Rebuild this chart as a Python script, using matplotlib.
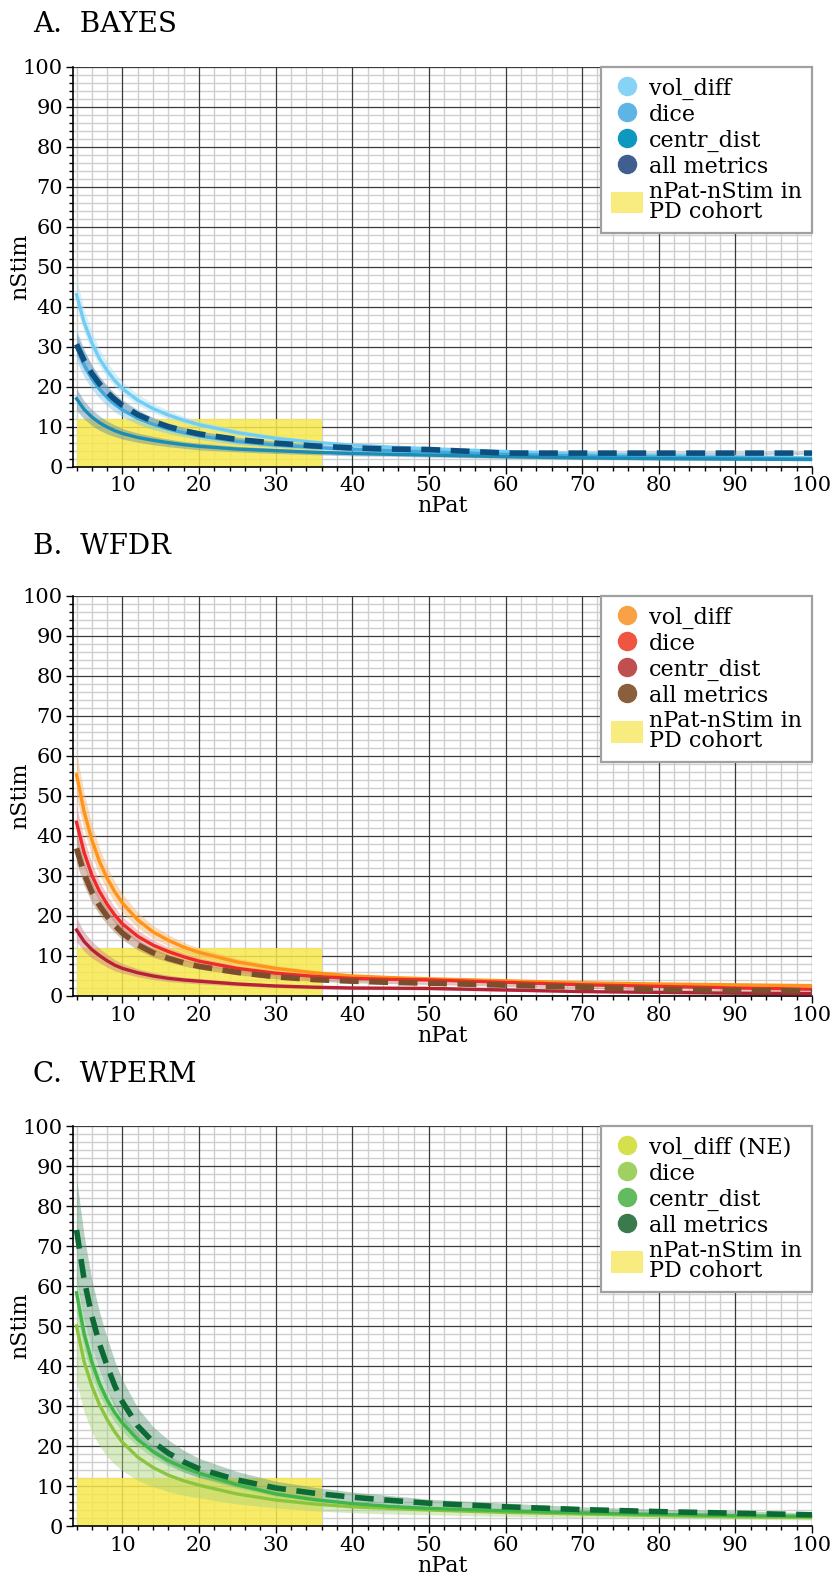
import matplotlib
matplotlib.use("Agg")
import matplotlib.pyplot as plt
from matplotlib.lines import Line2D
from matplotlib.patches import Patch
from matplotlib.ticker import MultipleLocator

plt.rcParams['font.family'] = ['DejaVu Serif']

# ---------------- data ----------------
n_pat = [4, 5, 6, 7, 8, 9, 10, 12, 14, 16, 18, 20, 25, 30, 35, 40, 45, 50, 60, 70, 80, 90, 100]

# A. BAYES
a_vol = [43, 36, 31, 27, 24, 21.5, 19.5, 16.6, 14.5, 12.9, 11.6, 10.5, 8.5, 7.1, 6.1, 5.4, 4.9, 4.5, 3.8, 3.2, 2.8, 2.5, 2.2]
a_vol_lo = [40, 33.5, 28.8, 25.1, 22.3, 20, 18.1, 15.4, 13.5, 12, 10.8, 9.8, 7.9, 6.6, 5.7, 5.0, 4.6, 4.2, 3.5, 3.0, 2.6, 2.3, 2.0]
a_vol_hi = [47, 39.2, 33.8, 29.4, 26.2, 23.4, 21.3, 18.1, 15.8, 14.1, 12.6, 11.4, 9.3, 7.7, 6.6, 5.9, 5.3, 4.9, 4.1, 3.5, 3.1, 2.7, 2.4]
a_dice = [30, 25.5, 22, 19.4, 17.3, 15.6, 14.2, 12.1, 10.6, 9.4, 8.5, 7.7, 6.3, 5.4, 4.8, 4.3, 4.0, 3.7, 3.1, 2.7, 2.4, 2.2, 2.0]
a_dice_lo = [26.4, 22.4, 19.4, 17.1, 15.2, 13.7, 12.5, 10.6, 9.3, 8.3, 7.5, 6.8, 5.5, 4.8, 4.2, 3.8, 3.5, 3.3, 2.7, 2.4, 2.1, 1.9, 1.8]
a_dice_hi = [34.5, 29.3, 25.3, 22.3, 19.9, 17.9, 16.3, 13.9, 12.2, 10.8, 9.8, 8.9, 7.2, 6.2, 5.5, 4.9, 4.6, 4.3, 3.6, 3.1, 2.8, 2.5, 2.3]
a_cd = [17, 14.3, 12.4, 11, 9.9, 9.0, 8.3, 7.3, 6.6, 6.0, 5.5, 5.1, 4.4, 4.0, 3.6, 3.3, 3.1, 2.9, 2.5, 2.2, 2.0, 1.9, 1.8]
a_cd_lo = [14.1, 11.9, 10.3, 9.1, 8.2, 7.5, 6.9, 6.1, 5.5, 5.0, 4.6, 4.2, 3.7, 3.3, 3.0, 2.7, 2.6, 2.4, 2.1, 1.8, 1.7, 1.6, 1.5]
a_cd_hi = [19.6, 16.4, 14.3, 12.7, 11.4, 10.4, 9.5, 8.4, 7.6, 6.9, 6.3, 5.9, 5.1, 4.6, 4.1, 3.8, 3.6, 3.3, 2.9, 2.5, 2.3, 2.2, 2.1]
a_all = [30.6, 26.5, 23.3, 20.7, 18.6, 16.8, 15.3, 13.0, 11.3, 10.0, 9.0, 8.2, 6.8, 5.9, 5.2, 4.7, 4.4, 4.3, 3.4, 3.4, 3.4, 3.4, 3.4]
a_all_lo = [27.8, 24.1, 21.2, 18.8, 16.9, 15.3, 13.9, 11.8, 10.3, 9.1, 8.2, 7.5, 6.2, 5.4, 4.7, 4.3, 4.0, 3.9, 3.1, 3.1, 3.1, 3.1, 3.1]
a_all_hi = [33.4, 28.9, 25.4, 22.6, 20.3, 18.3, 16.7, 14.2, 12.3, 10.9, 9.8, 8.9, 7.4, 6.4, 5.7, 5.1, 4.8, 4.7, 3.7, 3.7, 3.7, 3.7, 3.7]

# B. WFDR
b_vol = [55.3, 46, 39, 33.6, 29.4, 26.0, 23.2, 19.0, 16.0, 13.9, 12.2, 10.9, 8.5, 6.9, 5.8, 5.0, 4.6, 4.3, 3.8, 3.3, 3.0, 2.8, 2.6]
b_vol_lo = [49.8, 41.4, 35.1, 30.2, 26.5, 23.4, 20.9, 17.1, 14.4, 12.5, 11.0, 9.8, 7.7, 6.2, 5.2, 4.5, 4.1, 3.9, 3.4, 3.0, 2.7, 2.5, 2.3]
b_vol_hi = [60.8, 50.6, 42.9, 37.0, 32.3, 28.6, 25.5, 20.9, 17.6, 15.3, 13.4, 12.0, 9.4, 7.6, 6.4, 5.5, 5.1, 4.7, 4.2, 3.6, 3.3, 3.1, 2.9]
b_dice = [43.4, 35.8, 30.2, 26.1, 22.9, 20.2, 18.0, 14.9, 12.7, 11.1, 9.8, 8.7, 6.9, 5.7, 4.9, 4.4, 4.15, 4.0, 3.4, 2.8, 2.4, 2.0, 1.7]
b_dice_lo = [39, 32.2, 27.2, 23.5, 20.6, 18.2, 16.2, 13.4, 11.4, 10.0, 8.8, 7.8, 6.2, 5.1, 4.4, 4.0, 3.7, 3.6, 3.1, 2.5, 2.2, 1.8, 1.5]
b_dice_hi = [47.7, 39.4, 33.2, 28.7, 25.2, 22.2, 19.8, 16.4, 14.0, 12.2, 10.8, 9.6, 7.6, 6.3, 5.4, 4.8, 4.6, 4.4, 3.7, 3.1, 2.6, 2.2, 1.9]
b_cd = [16.5, 13.6, 11.6, 10.1, 8.8, 7.7, 6.9, 5.8, 5.0, 4.4, 4.0, 3.7, 3.0, 2.5, 2.2, 2.0, 1.95, 1.9, 1.5, 1.1, 0.9, 0.7, 0.6]
b_cd_lo = [13.5, 11.2, 9.5, 8.3, 7.2, 6.3, 5.7, 4.8, 4.1, 3.6, 3.3, 3.0, 2.5, 2.1, 1.8, 1.6, 1.6, 1.5, 1.2, 0.9, 0.7, 0.5, 0.4]
b_cd_hi = [19.5, 16.0, 13.7, 11.9, 10.4, 9.1, 8.1, 6.8, 5.9, 5.2, 4.7, 4.4, 3.5, 3.0, 2.6, 2.4, 2.3, 2.3, 1.8, 1.4, 1.1, 0.9, 0.8]
b_all = [36.9, 30.5, 26, 22.6, 19.9, 17.6, 15.7, 12.8, 10.8, 9.4, 8.3, 7.4, 5.9, 4.8, 4.1, 3.7, 3.4, 3.2, 2.7, 2.2, 1.6, 1.4, 1.3]
b_all_lo = [33.2, 27.5, 23.4, 20.3, 17.9, 15.8, 14.1, 11.5, 9.7, 8.5, 7.5, 6.7, 5.3, 4.3, 3.7, 3.3, 3.1, 2.9, 2.4, 2.0, 1.4, 1.2, 1.1]
b_all_hi = [40.6, 33.6, 28.6, 24.9, 21.9, 19.4, 17.3, 14.1, 11.9, 10.3, 9.1, 8.1, 6.5, 5.3, 4.5, 4.1, 3.7, 3.5, 3.0, 2.4, 1.8, 1.6, 1.5]

# C. WPERM
c_dice = [50, 41, 35, 30.3, 26.6, 23.5, 20.9, 17.2, 14.6, 12.7, 11.3, 10.2, 8.0, 6.5, 5.5, 4.8, 4.4, 4.0, 3.4, 3.0, 2.6, 2.3, 2.1]
c_dice_lo = [36, 28.5, 23.5, 20, 17.4, 15.4, 13.8, 11.4, 9.8, 8.6, 7.7, 7.0, 5.5, 4.5, 3.8, 3.3, 3.0, 2.8, 2.4, 2.1, 1.9, 1.7, 1.5]
c_dice_hi = [60, 49.5, 42.5, 36.8, 32.3, 28.6, 25.5, 21, 17.8, 15.5, 13.8, 12.5, 9.8, 8.0, 6.7, 5.8, 5.3, 4.9, 4.1, 3.6, 3.2, 2.9, 2.7]
c_cd = [58.3, 48, 41, 35.6, 31.5, 28.3, 25.7, 21.6, 18.6, 16.3, 14.6, 13.2, 10.3, 8.0, 6.6, 5.6, 4.9, 4.4, 3.8, 3.3, 2.9, 2.6, 2.4]
c_cd_lo = [53.6, 44.2, 37.7, 32.8, 29, 26, 23.6, 19.9, 17.1, 15, 13.4, 12.1, 9.5, 7.4, 6.1, 5.2, 4.5, 4.0, 3.5, 3.0, 2.7, 2.4, 2.2]
c_cd_hi = [63, 51.8, 44.3, 38.4, 34, 30.6, 27.8, 23.3, 20.1, 17.6, 15.8, 14.3, 11.1, 8.6, 7.1, 6.0, 5.3, 4.8, 4.1, 3.6, 3.1, 2.8, 2.6]
c_all = [74, 61.5, 52.5, 45.5, 40, 35, 31, 25, 21, 18.2, 16, 14.3, 11.5, 9.5, 8.2, 7.2, 6.4, 5.7, 4.8, 4.1, 3.6, 3.2, 2.8]
c_all_lo = [62, 51.5, 44.5, 38.7, 34, 29.8, 26.4, 21.3, 17.9, 15.5, 13.6, 12.2, 9.8, 8.1, 7.0, 6.1, 5.4, 4.8, 4.1, 3.5, 3.1, 2.7, 2.4]
c_all_hi = [87, 72.5, 61.5, 53.5, 47, 41.2, 36.5, 29.5, 24.8, 21.5, 18.9, 16.9, 13.6, 11.2, 9.7, 8.5, 7.6, 6.7, 5.7, 4.8, 4.2, 3.8, 3.3]

# PD cohort rectangle
cohort_npat = [4, 36]
cohort_nstim = 12

titles = ["A.  BAYES", "B.  WFDR", "C.  WPERM"]
legend_labels = [
    ["vol_diff", "dice", "centr_dist", "all metrics"],
    ["vol_diff", "dice", "centr_dist", "all metrics"],
    ["vol_diff (NE)", "dice", "centr_dist", "all metrics"],
]
legend_colors = [
    ["#87d3f5", "#5eb4e4", "#0e98c0", "#3f5f8e"],
    ["#f8a145", "#ef5540", "#c0504f", "#8b5e3c"],
    ["#d5e04c", "#a1d062", "#63bb5f", "#3b7a4c"],
]
cohort_label = "nPat-nStim in\nPD cohort"

# series per panel: (y, lo, hi, line color, band color, dashed)
panels = [
    [
        (a_vol, a_vol_lo, a_vol_hi, "#72cdf4", "#a8e0f8", False),
        (a_dice, a_dice_lo, a_dice_hi, "#3fa9de", "#7cc3ea", False),
        (a_cd, a_cd_lo, a_cd_hi, "#1b8cb3", "#5d8aa6", False),
        (a_all, a_all_lo, a_all_hi, "#0d4f7e", "#6f8fb0", True),
    ],
    [
        (b_vol, b_vol_lo, b_vol_hi, "#ff9418", "#f6b26a", False),
        (b_dice, b_dice_lo, b_dice_hi, "#ee2b2b", "#f08a8a", False),
        (b_cd, b_cd_lo, b_cd_hi, "#b52236", "#cc7a86", False),
        (b_all, b_all_lo, b_all_hi, "#7b4f2c", "#a57a5e", True),
    ],
    [
        (c_dice, c_dice_lo, c_dice_hi, "#8bc540", "#a9d47a", False),
        (c_cd, c_cd_lo, c_cd_hi, "#3fb54a", "#7cc67c", False),
        (c_all, c_all_lo, c_all_hi, "#0c6b34", "#5e9a78", True),
    ],
]

# ---------------- layout ----------------
W, H = 836, 1586
fig = plt.figure(figsize=(W / 100, H / 100), dpi=100)
ax_left = 72.7 / W
ax_w = (812 - 72.7) / W
ax_h = 400 / H
ax_tops = [66.7, 596, 1126]
title_y = [25, 546, 1075]

for i in range(3):
    bottom = 1 - (ax_tops[i] + 400) / H
    ax = fig.add_axes([ax_left, bottom, ax_w, ax_h])
    ax.set_xlim(3.5, 100)
    ax.set_ylim(0, 100)
    ax.xaxis.set_major_locator(MultipleLocator(10))
    ax.xaxis.set_minor_locator(MultipleLocator(2))
    ax.yaxis.set_major_locator(MultipleLocator(10))
    ax.yaxis.set_minor_locator(MultipleLocator(2))
    ax.set_axisbelow(True)
    # light minor grid from the axis, dark major grid drawn on top of it
    ax.grid(which="minor", color="#cfcfcf", linewidth=1.0)
    ax.grid(which="major", visible=False)
    for xv in ax.get_xticks():
        if 3.5 <= xv <= 100:
            ax.axvline(xv, color="#3a3a3a", linewidth=0.9, zorder=0.7)
    for yv in ax.get_yticks():
        if 0 <= yv <= 100:
            ax.axhline(yv, color="#3a3a3a", linewidth=0.9, zorder=0.7)
    for s in ["top", "right"]:
        ax.spines[s].set_visible(False)
    for s in ["left", "bottom"]:
        ax.spines[s].set_color("black")
        ax.spines[s].set_linewidth(1.2)
    ax.tick_params(which="major", direction="out", length=5, width=1.0, labelsize=15, pad=2)
    ax.tick_params(which="minor", direction="out", length=3, width=1.0)
    ax.set_xticks(range(10, 101, 10))

    ax.fill_between(cohort_npat, 0, cohort_nstim, color="#f6e84c", alpha=0.85, linewidth=0, zorder=1.5)

    for (y, lo, hi, lc, bc, dashed) in panels[i]:
        ax.fill_between(n_pat, lo, hi, color=bc, alpha=0.45, linewidth=0, zorder=2)
    for (y, lo, hi, lc, bc, dashed) in panels[i]:
        if dashed:
            ax.plot(n_pat, y, color=lc, linewidth=4.0, linestyle=(0, (3.4, 1.9)),
                    solid_capstyle="butt", dash_capstyle="butt", zorder=4)
        else:
            ax.plot(n_pat, y, color=lc, linewidth=2.4, zorder=3)

    ax.set_xlabel("nPat", fontsize=16, labelpad=0)
    ax.set_ylabel("nStim", fontsize=16, labelpad=-6)

    handles = [Line2D([], [], linestyle="none", marker="o", markersize=13,
                      markerfacecolor=c, markeredgecolor=c) for c in legend_colors[i]]
    handles.append(Patch(facecolor="#f8ec80", edgecolor="none"))
    leg = ax.legend(handles, legend_labels[i] + [cohort_label], loc="upper right",
                    bbox_to_anchor=(1.0, 1.0), borderaxespad=0.0, fontsize=16,
                    frameon=True, fancybox=False, framealpha=1.0, edgecolor="#a0a0a0",
                    labelspacing=0.12, handlelength=1.45, handleheight=1.1,
                    handletextpad=0.25, borderpad=0.45)
    leg.get_frame().set_linewidth(1.6)
    leg.set_zorder(10)
    for t in leg.get_texts():
        t.set_linespacing(0.9)

    fig.text(33 / W, 1 - title_y[i] / H, titles[i], fontsize=20, va="center", ha="left")

fig.savefig("out.png", dpi=100)
